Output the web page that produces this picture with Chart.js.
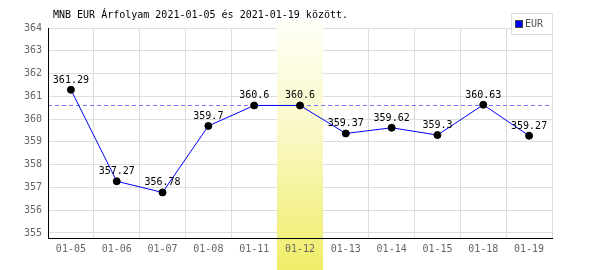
<!DOCTYPE html>
<html>
<head>
<meta charset="utf-8">
<script src="https://cdn.jsdelivr.net/npm/chart.js@4/dist/chart.umd.min.js"></script>
<style>
html,body{margin:0;padding:0;background:#fff;}
#wrap{width:600px;height:270px;position:relative;}
</style>
</head>
<body>
<div id="wrap"><canvas id="c" width="600" height="270"></canvas></div>
<script>
const categories = ["01-05","01-06","01-07","01-08","01-11","01-12","01-13","01-14","01-15","01-18","01-19"];
const eurValues = [361.29,357.27,356.78,359.7,360.6,360.6,359.37,359.62,359.3,360.63,359.27];
const valueLabels = ["361.29","357.27","356.78","359.7","360.6","360.6","359.37","359.62","359.3","360.63","359.27"];
const yTickValues = [355,356,357,358,359,360,361,362,363,364];
const referenceLevel = 360.6;
const highlightIndex = 5;
const seriesName = "EUR";
const titleText = "MNB EUR Árfolyam 2021-01-05 és 2021-01-19 között.";

const FONT = "'DejaVu Sans Mono', 'Liberation Mono', monospace";

const decor = {
  id: 'decor',
  beforeDatasetsDraw(chart) {
    const ctx = chart.ctx, x = chart.scales.x, y = chart.scales.y, ca = chart.chartArea;
    const cx = x.getPixelForValue(highlightIndex);
    const w = (ca.right - ca.left) / categories.length;
    const g = ctx.createLinearGradient(0, 22, 0, 270);
    g.addColorStop(0, '#fffff6');
    g.addColorStop(0.45, '#f9f8c6');
    g.addColorStop(1, '#efed66');
    ctx.save();
    ctx.fillStyle = g;
    ctx.fillRect(Math.round(cx - w / 2), 22, Math.round(w), 248);
    // dashed reference line
    const ly = Math.round(y.getPixelForValue(referenceLevel)) + 0.5;
    ctx.strokeStyle = '#7878ff';
    ctx.lineWidth = 1;
    ctx.setLineDash([4, 3]);
    ctx.beginPath();
    ctx.moveTo(ca.left, ly);
    ctx.lineTo(ca.right, ly);
    ctx.stroke();
    ctx.restore();
  },
  afterDatasetsDraw(chart) {
    const ctx = chart.ctx;
    const meta = chart.getDatasetMeta(0);
    ctx.save();
    ctx.font = '10px ' + FONT;
    ctx.fillStyle = '#000';
    ctx.textAlign = 'center';
    ctx.textBaseline = 'alphabetic';
    meta.data.forEach((pt, i) => {
      ctx.fillText(valueLabels[i], pt.x, pt.y - 7);
    });
    ctx.restore();
  },
  afterDraw(chart) {
    const ctx = chart.ctx;
    ctx.save();
    ctx.font = '10px ' + FONT;
    ctx.fillStyle = '#000';
    ctx.textAlign = 'left';
    ctx.textBaseline = 'middle';
    ctx.fillText(titleText, 53, 15);
    ctx.strokeStyle = '#dddddd';
    ctx.lineWidth = 1;
    ctx.fillStyle = '#fff';
    ctx.fillRect(511.5, 13.5, 41, 21);
    ctx.strokeRect(511.5, 13.5, 41, 21);
    ctx.fillStyle = '#0000ff';
    ctx.fillRect(516, 21, 6, 6);
    ctx.strokeStyle = '#444';
    ctx.strokeRect(515.5, 20.5, 7, 7);
    ctx.fillStyle = '#555';
    ctx.font = '10px ' + FONT;
    ctx.fillText(seriesName, 525, 24.5);
    ctx.restore();
  }
};

new Chart(document.getElementById('c'), {
  type: 'line',
  data: {
    labels: categories,
    datasets: [{
      label: seriesName,
      data: eurValues,
      borderColor: '#0000ff',
      backgroundColor: '#000',
      borderWidth: 1,
      tension: 0,
      pointRadius: 3.5,
      pointBackgroundColor: '#000',
      pointBorderColor: '#000',
      pointBorderWidth: 1,
      fill: false
    }]
  },
  options: {
    responsive: false,
    animation: false,
    devicePixelRatio: 1,
    layout: { padding: { top: 28, right: 48, left: 0, bottom: 0 } },
    plugins: { legend: { display: false }, title: { display: false }, tooltip: { enabled: false } },
    scales: {
      x: {
        offset: true,
        grid: { color: '#dddddd', offset: true, drawTicks: false },
        border: { color: '#000', width: 1, z: 1 },
        ticks: { font: { family: FONT, size: 10 }, color: '#666', padding: 5, maxRotation: 0, autoSkip: false, z: 1 },
        afterFit(s) { s.height = 32; }
      },
      y: {
        min: 354.78,
        max: 364,
        grid: { color: '#dddddd', drawTicks: false },
        border: { color: '#000', width: 1, z: 1 },
        ticks: { font: { family: FONT, size: 10 }, color: '#666', padding: 6, z: 1 },
        afterBuildTicks(s) { s.ticks = yTickValues.map(v => ({ value: v })); },
        afterFit(s) { s.width = 48; }
      }
    }
  },
  plugins: [decor]
});
</script>
</body>
</html>
